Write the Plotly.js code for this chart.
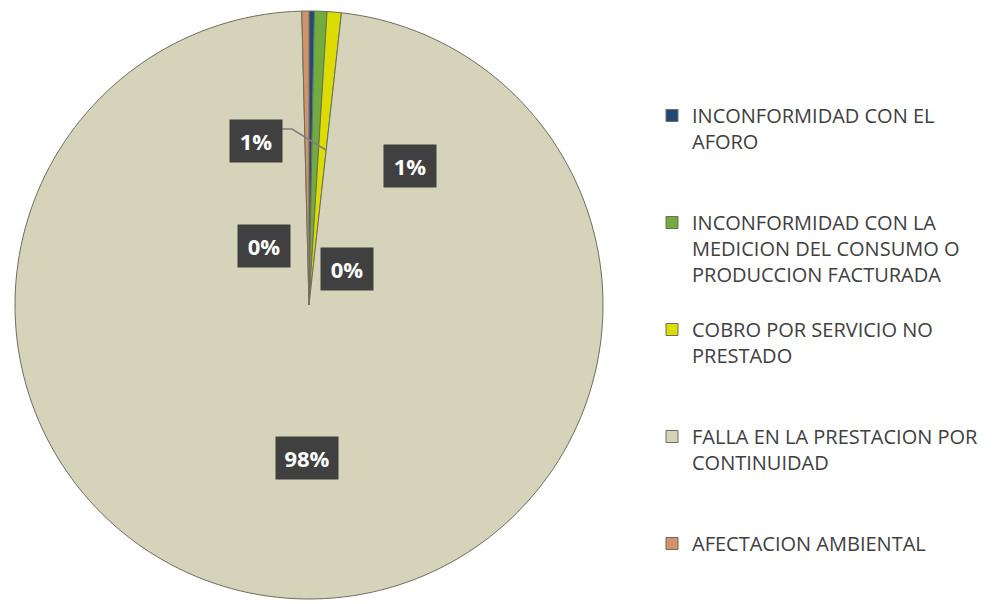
<!DOCTYPE html>
<html>
<head>
<meta charset="utf-8">
<script src="https://cdn.plot.ly/plotly-3.0.1.min.js"></script>
<style>html,body{margin:0;padding:0;background:#fff;}#chart{width:993px;height:604px;}</style>
</head>
<body>
<div id="chart"></div>
<script>
// Categories (legend labels, with the reference's line wraps)
var categories = [
  "INCONFORMIDAD CON EL<br>AFORO",
  "INCONFORMIDAD CON LA<br>MEDICION DEL CONSUMO O<br>PRODUCCION FACTURADA",
  "COBRO POR SERVICIO NO<br>PRESTADO",
  "FALLA EN LA PRESTACION POR<br>CONTINUIDAD",
  "AFECTACION AMBIENTAL"
];
// Series values
var values = [3, 7, 8, 1000, 4];
var sliceColors = ["#1F4A78", "#72AC3E", "#DCDC00", "#D5D3BA", "#D0936C"];

var W = 993, H = 604;
function px(x){ return x / W; }
function py(y){ return 1 - y / H; }

// pad legend entries (except the last) to the same number of lines so items are evenly spaced
var maxLines = 4;
var legendLabels = categories.map(function(c, idx){
  if (idx === categories.length - 1) return c;
  var n = c.split("<br>").length, s = c;
  for (var i = n; i < maxLines; i++) s += "<br> ";
  return s;
});

var total = values.reduce(function(a,b){return a+b;}, 0);
var pctText = values.map(function(v){ return Math.round(v / total * 100) + "%"; });

// label box centres (pixels) for each slice, in slice order
var labelPos = [[347, 269], [256, 141], [410, 166], [307, 458], [264, 246]];

var annotations = pctText.map(function(t, i){
  return {
    xref: "paper", yref: "paper",
    x: px(labelPos[i][0]), y: py(labelPos[i][1]),
    xanchor: "center", yanchor: "middle",
    text: "<b>" + t + "</b>", showarrow: false,
    font: {family: "Open Sans, DejaVu Sans, sans-serif", size: 22, color: "#ffffff"},
    bgcolor: "#404040", width: t.length > 2 ? 60 : 50, height: 40
  };
});

var leader = "M" + px(281) + "," + py(129) + " L" + px(292) + "," + py(129) + " L" + px(326) + "," + py(150);

var cx = 309, cy = 305, r = 294;
var trace = {
  type: "pie",
  labels: legendLabels,
  values: values,
  sort: false,
  direction: "clockwise",
  rotation: 0,
  textinfo: "none",
  hoverinfo: "label+percent",
  marker: {colors: sliceColors, line: {color: "#6e6d5f", width: 1}},
  domain: {x: [px(cx - r), px(cx + r)], y: [1 - (cy + r) / H, 1 - (cy - r) / H]}
};

var layout = {
  width: W, height: H,
  margin: {l: 0, r: 0, t: 0, b: 0},
  paper_bgcolor: "#ffffff",
  showlegend: true,
  legend: {
    x: px(652), y: py(96), xanchor: "left", yanchor: "top",
    valign: "top",
    font: {family: "Open Sans, Lato, sans-serif", size: 20, color: "#404040"},
    bgcolor: "rgba(0,0,0,0)"
  },
  annotations: annotations,
  shapes: [{type: "path", xref: "paper", yref: "paper", path: leader,
            line: {color: "#7f7f7f", width: 1.5}}]
};

Plotly.newPlot("chart", [trace], layout, {displayModeBar: false, staticPlot: true});
</script>
</body>
</html>
